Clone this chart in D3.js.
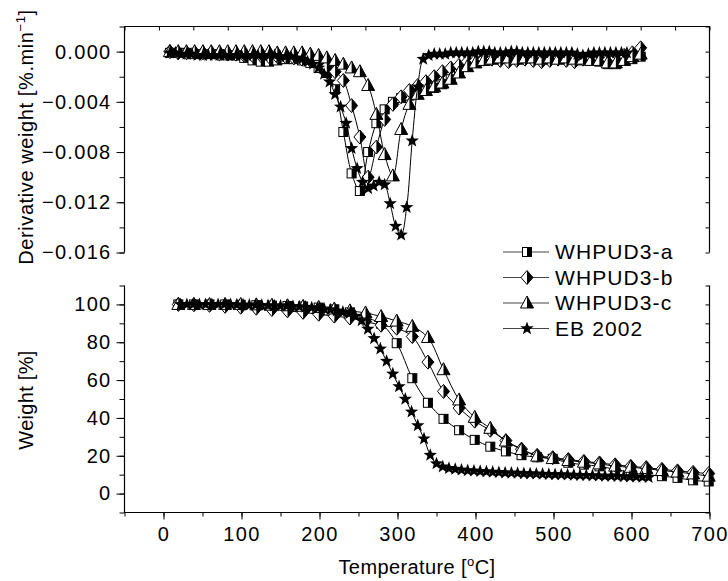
<!DOCTYPE html>
<html>
<head>
<meta charset="utf-8">
<script src="https://cdn.jsdelivr.net/npm/d3@7"></script>
<style>
  html, body { margin: 0; padding: 0; background: #fff; overflow: hidden; }
  svg { display: block; }
  text { font-family: "Liberation Sans", Arial, sans-serif; fill: #000; }
</style>
</head>
<body>
<svg id="chart" width="728" height="581"></svg>
<script>
// ---- top panel: derivative weight (DTG), %.min-1 ----
const dtgTemp = [16, 28, 40, 52, 64, 76, 88, 100, 112, 124, 136, 148, 160, 172, 184, 196, 208, 220, 232, 244,
  256, 268, 280, 292, 304, 316, 328, 340, 352, 364, 376, 388, 400, 412, 424, 436, 448, 460, 472, 484,
  496, 508, 520, 532, 544, 556, 568, 580, 592, 604, 616, 628, 640, 652, 664, 676, 688, 700];
const dtgA = [-0.0001, -0.0001, -0.0001, -0.0002, -0.0002, -0.0002, -0.0002, -0.0003, -0.0003, -0.0005,
  -0.0007, -0.0008, -0.0008, -0.0007, -0.0006, -0.0006, -0.0007, -0.0009, -0.0013, -0.0017,
  -0.0030, -0.0064, -0.0097, -0.0111, -0.0080, -0.0057, -0.0046, -0.0040, -0.0037, -0.0035,
  -0.0033, -0.0031, -0.0029, -0.0026, -0.0022, -0.0016, -0.0012, -0.0009, -0.0007, -0.0006,
  -0.0005, -0.0005, -0.0005, -0.0005, -0.0005, -0.0006, -0.0006, -0.0006, -0.0005, -0.0006,
  -0.0007, -0.0007, -0.0008, -0.0010, -0.0010, -0.0007, -0.0006, -0.0004];
const dtgB = [0.0000, -0.0001, -0.0001, -0.0001, -0.0001, -0.0001, -0.0002, -0.0002, -0.0002, -0.0003,
  -0.0003, -0.0003, -0.0004, -0.0004, -0.0004, -0.0005, -0.0006, -0.0007, -0.0009, -0.0012,
  -0.0016, -0.0023, -0.0043, -0.0068, -0.0100, -0.0076, -0.0054, -0.0042, -0.0036, -0.0031,
  -0.0027, -0.0024, -0.0020, -0.0016, -0.0013, -0.0011, -0.0008, -0.0007, -0.0006, -0.0006,
  -0.0007, -0.0008, -0.0007, -0.0006, -0.0007, -0.0008, -0.0007, -0.0006, -0.0007, -0.0008,
  -0.0006, -0.0005, -0.0006, -0.0007, -0.0005, -0.0003, -0.0001, 0.0003];
const dtgC = [0.0000, 0.0000, 0.0000, 0.0000, 0.0000, 0.0000, 0.0000, 0.0000, 0.0000, 0.0000,
  0.0000, 0.0000, 0.0000, -0.0001, -0.0001, -0.0001, -0.0001, -0.0002, -0.0003, -0.0005,
  -0.0007, -0.0010, -0.0013, -0.0016, -0.0027, -0.0050, -0.0082, -0.0099, -0.0062, -0.0042,
  -0.0034, -0.0031, -0.0028, -0.0025, -0.0022, -0.0017, -0.0012, -0.0009, -0.0007, -0.0006,
  -0.0005, -0.0005, -0.0006, -0.0005, -0.0005, -0.0006, -0.0005, -0.0006, -0.0005, -0.0006,
  -0.0006, -0.0007, -0.0007, -0.0009, -0.0009, -0.0007, -0.0004, -0.0002];
const dtgTempEB = [16, 24, 32, 40, 48, 56, 64, 72, 80, 88, 96, 104, 112, 120, 128, 136, 144, 152, 160, 168,
  176, 184, 192, 200, 208, 216, 224, 232, 240, 248, 256, 264, 272, 280, 288, 296, 304, 312, 320, 328,
  336, 344, 352, 360, 368, 376, 384, 392, 400, 408, 416, 424, 432, 440, 448, 456, 464, 472, 480, 488,
  496, 504, 512, 520, 528, 536, 544, 552, 560, 568, 576, 584, 592, 600, 608, 616, 624, 632, 640, 648,
  656, 664, 672, 680];
const dtgEB = [-0.0001, -0.0001, -0.0002, -0.0002, -0.0002, -0.0003, -0.0003, -0.0003, -0.0003, -0.0003,
  -0.0003, -0.0003, -0.0003, -0.0003, -0.0003, -0.0003, -0.0003, -0.0003, -0.0003, -0.0003,
  -0.0004, -0.0004, -0.0004, -0.0005, -0.0006, -0.0008, -0.0010, -0.0013, -0.0018, -0.0024,
  -0.0034, -0.0044, -0.0057, -0.0077, -0.0093, -0.0104, -0.0109, -0.0107, -0.0104, -0.0106,
  -0.0121, -0.0139, -0.0146, -0.0124, -0.0071, -0.0028, -0.0006, -0.0003, -0.0002, -0.0002,
  -0.0002, -0.0001, -0.0001, -0.0001, -0.0001, -0.0001, 0.0000, 0.0000, 0.0000, -0.0001,
  -0.0001, -0.0001, 0.0000, 0.0000, -0.0001, -0.0001, -0.0001, -0.0001, -0.0001, -0.0001,
  -0.0001, -0.0001, -0.0001, -0.0001, -0.0002, -0.0003, -0.0002, -0.0001, -0.0001, -0.0001,
  -0.0001, -0.0001, -0.0001, -0.0001];

// ---- bottom panel: weight (TG), % ----
const tgTemp = [19, 39, 59, 79, 99, 119, 139, 159, 179, 199, 219, 239, 259, 279, 299, 319, 339, 359, 379, 399,
  419, 439, 459, 479, 499, 519, 539, 559, 579, 599, 619, 639, 659, 679, 699];
const tgA = [100, 100, 100, 100, 99.8, 99.6, 99.4, 99.2, 98.9, 98.3, 97.4, 95.8, 93, 89.8, 79.5, 61, 48, 39.5, 33.5, 28.4,
  24.8, 22.3, 20.3, 19.2, 18.4, 16.3, 15.3, 14.4, 12.8, 11.2, 10, 9.2, 8.3, 7, 6.4];
const tgB = [100, 99.8, 99.5, 99, 98.5, 98, 97.3, 96.6, 95.8, 94.8, 93.8, 92.8, 91, 89, 87.4, 83, 69.5, 54, 45.2, 38.3,
  33.5, 28, 23.5, 20.2, 19, 18, 17, 16.2, 15.2, 14.4, 13.7, 12.8, 12, 11.2, 10.6];
const tgC = [100, 100, 100, 100, 100, 99.8, 99.6, 99.3, 99, 98.4, 97.6, 96.6, 95.5, 93.6, 91.2, 88.4, 82.5, 65.5, 49.5, 40.3,
  34.5, 27.8, 23.3, 19.8, 18.5, 17.5, 16.6, 15.7, 14.5, 13.9, 13.2, 12.2, 11.4, 10.4, 9.2];
const tgTempEB = [22, 30, 38, 46, 54, 62, 70, 78, 86, 94, 102, 110, 118, 126, 134, 142, 150, 158, 166, 174,
  182, 190, 198, 206, 214, 222, 230, 238, 246, 254, 262, 270, 278, 286, 294, 302, 310, 318, 326, 334,
  342, 350, 358, 366, 374, 382, 390, 398, 406, 414, 422, 430, 438, 446, 454, 462, 470, 478, 486, 494,
  502, 510, 518, 526, 534, 542, 550, 558, 566, 574, 582, 590, 598, 606, 614, 622];
const tgEB = [100, 100, 100, 100, 100, 100, 100, 100, 100, 99.8, 99.8, 99.7, 99.6, 99.5, 99.4, 99.3, 99.2, 99.1, 99, 98.8,
  98.6, 98.3, 98, 97.6, 97.2, 96.6, 96, 95.2, 93.8, 91.5, 87, 82, 76.5, 70, 63.3, 56.6, 50, 43.2, 36, 29,
  20.3, 15.8, 14.2, 13.4, 12.9, 12.5, 12.2, 12, 11.8, 11.6, 11.4, 11.2, 11, 10.9, 10.8, 10.6, 10.5, 10.4, 10.3, 10.2,
  10.1, 10, 9.9, 9.8, 9.7, 9.6, 9.5, 9.4, 9.3, 9.2, 9.1, 9, 8.9, 8.8, 8.7, 8.6];

const seriesNames = ["WHPUD3-a", "WHPUD3-b", "WHPUD3-c", "EB 2002"];
const seriesMarks = ["square", "diamond", "triangle", "star"];

const dtgYTicks = [0, -0.004, -0.008, -0.012, -0.016];
const tgYTicks = [0, 20, 40, 60, 80, 100];
const xTicks = [0, 100, 200, 300, 400, 500, 600, 700];

const svg = d3.select("#chart");
const left = 124.5, right = 709.5;

// scales
const xBottom = d3.scaleLinear().domain([-50, 700]).range([left, right]);
const xTop = d3.scaleLinear().domain([-50, 800]).range([left, right]);   // upper plot has its own x layer
const yTop = d3.scaleLinear().domain([-0.016, 0.002]).range([252.5, 26.5]);
const yBot = d3.scaleLinear().domain([-10, 110]).range([512.5, 285.5]);

const fmt3 = d3.format(".3f");

function drawAxis(axis, transform) {
  const g = svg.append("g").attr("transform", transform).call(axis);
  g.select(".domain").remove();
  g.selectAll("text").style("font-size", "20px").style("letter-spacing", "1.3px").attr("fill", "#000");
  g.selectAll("line").attr("stroke", "#000").attr("stroke-width", 1);
  return g;
}
const noLabel = () => "";

// ---- top panel axes ----
drawAxis(d3.axisLeft(yTop).tickValues(d3.range(-0.016, 0.0021, 0.002)).tickSize(5).tickFormat(noLabel), `translate(${left},0)`);
drawAxis(d3.axisLeft(yTop).tickValues(dtgYTicks).tickSize(8).tickPadding(5).tickFormat(fmt3), `translate(${left},0)`);
drawAxis(d3.axisLeft(yTop).tickValues(d3.range(-0.016, 0.0021, 0.002)).tickSize(4).tickFormat(noLabel), `translate(${right},0)`);
drawAxis(d3.axisBottom(xTop).tickValues(d3.range(-50, 801, 50)).tickSize(4).tickFormat(noLabel), `translate(0,${yTop.range()[1]})`);

// ---- bottom panel axes ----
drawAxis(d3.axisLeft(yBot).tickValues(d3.range(-10, 111, 10)).tickSize(5).tickFormat(noLabel), `translate(${left},0)`);
drawAxis(d3.axisLeft(yBot).tickValues(tgYTicks).tickSize(8).tickPadding(5), `translate(${left},0)`);
drawAxis(d3.axisLeft(yBot).tickValues(d3.range(-10, 111, 10)).tickSize(4).tickFormat(noLabel), `translate(${right},0)`);
drawAxis(d3.axisBottom(xBottom).tickValues(d3.range(-50, 701, 50)).tickSize(4).tickFormat(noLabel), `translate(0,${yBot.range()[0]})`);
drawAxis(d3.axisBottom(xBottom).tickValues(xTicks).tickSize(7).tickPadding(7), `translate(0,${yBot.range()[0]})`);

// ---- axis titles ----
const yt1 = svg.append("text").attr("transform", "translate(33,137) rotate(-90)")
  .attr("text-anchor", "middle").style("font-size", "20px").style("letter-spacing", "0.6px");
yt1.append("tspan").text("Derivative weight [%.min");
yt1.append("tspan").attr("dy", -8).style("font-size", "13px").text("\u22121");
yt1.append("tspan").attr("dy", 8).text("]");

svg.append("text").attr("transform", "translate(33,400) rotate(-90)")
  .attr("text-anchor", "middle").style("font-size", "20px").style("letter-spacing", "0.3px").text("Weight [%]");

const xt = svg.append("text").attr("x", 417).attr("y", 574)
  .attr("text-anchor", "middle").style("font-size", "20px").style("letter-spacing", "0.4px");
xt.append("tspan").text("Temperature [");
xt.append("tspan").attr("dy", -8).style("font-size", "13px").text("o");
xt.append("tspan").attr("dy", 8).text("C]");

// ---- markers ----
function drawMark(g, type) {
  if (type === "square") {
    g.append("rect").attr("x", -4.5).attr("y", -4.5).attr("width", 9).attr("height", 9)
      .attr("fill", "#fff").attr("stroke", "#000");
    g.append("rect").attr("x", 0).attr("y", -4.5).attr("width", 4.5).attr("height", 9).attr("fill", "#000");
  } else if (type === "diamond") {
    g.append("path").attr("d", "M0,-7L6,0L0,7L-6,0Z").attr("fill", "#fff").attr("stroke", "#000");
    g.append("path").attr("d", "M0,-7L6,0L0,7Z").attr("fill", "#000");
  } else if (type === "triangle") {
    g.append("path").attr("d", "M0,-7L6.5,5L-6.5,5Z").attr("fill", "#fff").attr("stroke", "#000");
    g.append("path").attr("d", "M0,-7L6.5,5L0,5Z").attr("fill", "#000");
  } else {
    const pts = d3.range(10).map(i => {
      const a = -Math.PI / 2 + i * Math.PI / 5, r = i % 2 ? 2.9 : 7;
      return [r * Math.cos(a), r * Math.sin(a)];
    });
    g.append("path").attr("d", "M" + pts.join("L") + "Z").attr("fill", "#000");
  }
}

function drawSeries(temps, vals, xs, ys, type) {
  const pts = temps.map((t, i) => [xs(t), ys(vals[i])]);
  svg.append("path").attr("d", d3.line().curve(d3.curveCatmullRom.alpha(0.5))(pts))
    .attr("fill", "none").attr("stroke", "#000").attr("stroke-width", 1);
  pts.forEach(p => drawMark(svg.append("g").attr("transform", `translate(${p[0]},${p[1]})`), type));
}

// top panel
drawSeries(dtgTemp, dtgA, xTop, yTop, "square");
drawSeries(dtgTemp, dtgB, xTop, yTop, "diamond");
drawSeries(dtgTemp, dtgC, xTop, yTop, "triangle");
drawSeries(dtgTempEB, dtgEB, xTop, yTop, "star");

// bottom panel
drawSeries(tgTemp, tgA, xBottom, yBot, "square");
drawSeries(tgTemp, tgB, xBottom, yBot, "diamond");
drawSeries(tgTemp, tgC, xBottom, yBot, "triangle");
drawSeries(tgTempEB, tgEB, xBottom, yBot, "star");

// ---- legend ----
seriesNames.forEach((name, i) => {
  const y = 252 + i * 25.5;
  svg.append("line").attr("x1", 503).attr("x2", 549).attr("y1", y).attr("y2", y)
    .attr("stroke", "#444").attr("stroke-width", 1);
  drawMark(svg.append("g").attr("transform", `translate(527,${y})`), seriesMarks[i]);
  svg.append("text").attr("x", 555).attr("y", y).attr("dy", "0.35em")
    .style("font-size", "21px").style("letter-spacing", "1.1px").text(name);
});

// frames on top of everything: upper plot open at the bottom, lower plot open at the top
const frame = svg.append("g").attr("fill", "none").attr("stroke", "#000").attr("stroke-width", 1.2);
frame.append("path")
  .attr("d", `M${left},${yTop.range()[0]}V${yTop.range()[1]}H${right}V${yTop.range()[0]}`);
frame.append("path")
  .attr("d", `M${left},${yBot.range()[1]}V${yBot.range()[0]}H${right}V${yBot.range()[1]}`);
</script>
</body>
</html>
